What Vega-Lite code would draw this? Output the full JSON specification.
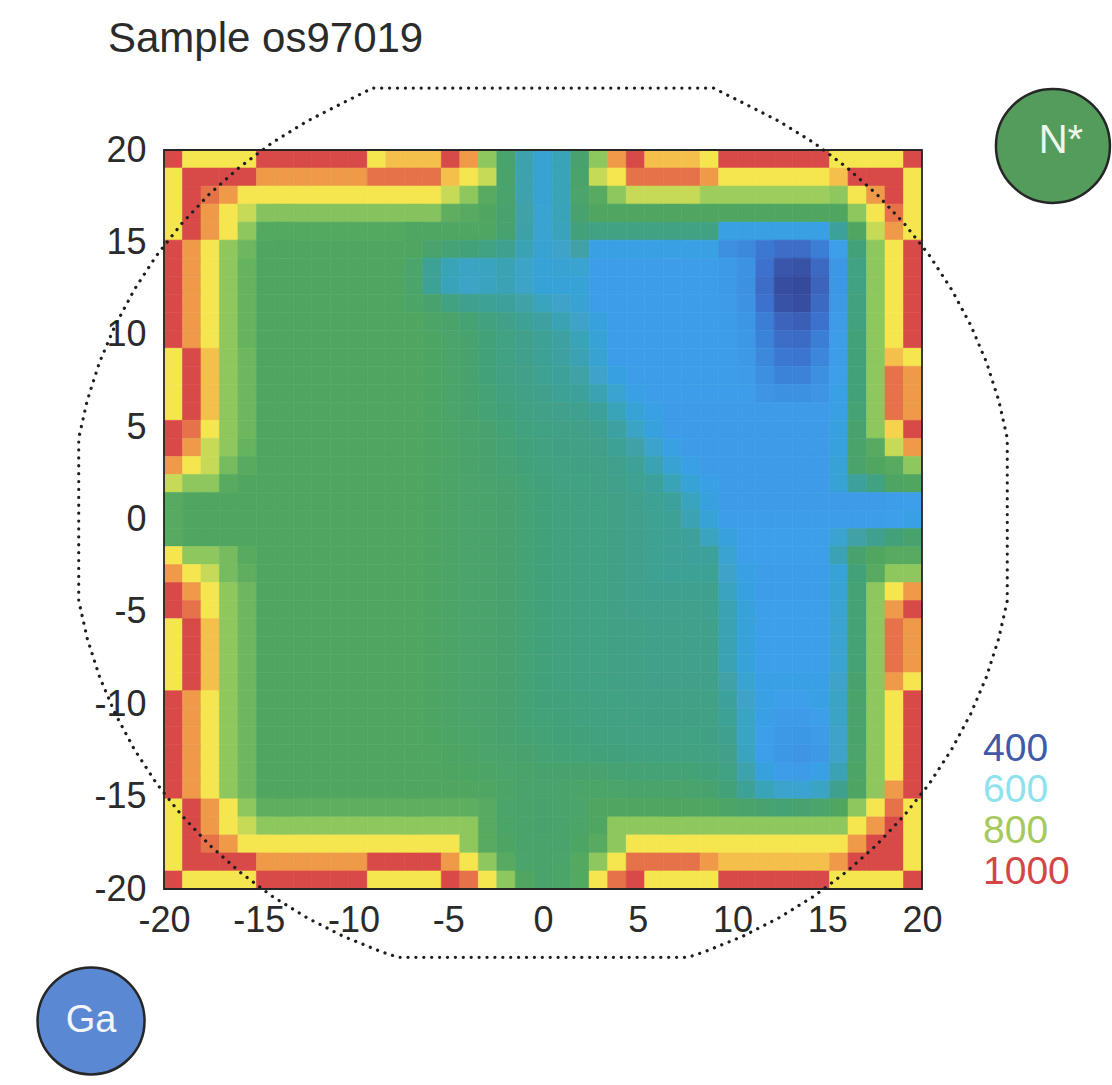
{
  "$schema": "https://vega.github.io/schema/vega-lite/v6.json",
  "autosize": "none",
  "width": 758,
  "height": 739,
  "padding": {"left": 164, "top": 150, "right": 190, "bottom": 196},
  "background": "white",
  "config": {
    "view": {"stroke": null},
    "font": "Liberation Sans",
    "axis": {"ticks": false, "tickSize": 0, "domain": false, "grid": false, "labelFont": "Liberation Sans", "labelFontSize": 36, "labelColor": "#2b2b2b", "labelOverlap": false, "labelFlush": false, "labelExpr": "'' + datum.value"}
  },
  "title": {"text": "Sample os97019", "anchor": "start", "frame": "group", "orient": "top", "font": "Liberation Sans", "fontSize": 42, "fontWeight": "normal", "color": "#2b2b2b", "baseline": "alphabetic", "offset": -12, "dx": -56},
  "resolve": {"scale": {"x": "independent", "y": "independent", "color": "independent"}},
  "layer": [
    {
      "data": {"values": [
{"c":0,"r":0,"v":1000},{"c":1,"r":0,"v":880},{"c":2,"r":0,"v":880},{"c":3,"r":0,"v":880},{"c":4,"r":0,"v":880},{"c":5,"r":0,"v":1000},{"c":6,"r":0,"v":1000},{"c":7,"r":0,"v":1000},{"c":8,"r":0,"v":1000},{"c":9,"r":0,"v":1000},{"c":10,"r":0,"v":1000},{"c":11,"r":0,"v":880},{"c":12,"r":0,"v":920},{"c":13,"r":0,"v":920},{"c":14,"r":0,"v":920},{"c":15,"r":0,"v":1000},{"c":16,"r":0,"v":950},{"c":17,"r":0,"v":805},{"c":18,"r":0,"v":745},{"c":19,"r":0,"v":685},{"c":20,"r":0,"v":645},{"c":21,"r":0,"v":675},{"c":22,"r":0,"v":740},{"c":23,"r":0,"v":805},{"c":24,"r":0,"v":950},{"c":25,"r":0,"v":1000},{"c":26,"r":0,"v":920},{"c":27,"r":0,"v":920},{"c":28,"r":0,"v":920},{"c":29,"r":0,"v":880},{"c":30,"r":0,"v":1000},{"c":31,"r":0,"v":1000},{"c":32,"r":0,"v":1000},{"c":33,"r":0,"v":1000},{"c":34,"r":0,"v":1000},{"c":35,"r":0,"v":1000},{"c":36,"r":0,"v":880},{"c":37,"r":0,"v":880},{"c":38,"r":0,"v":880},{"c":39,"r":0,"v":880},{"c":40,"r":0,"v":1000},
{"c":0,"r":1,"v":880},{"c":1,"r":1,"v":1000},{"c":2,"r":1,"v":1000},{"c":3,"r":1,"v":1000},{"c":4,"r":1,"v":1000},{"c":5,"r":1,"v":950},{"c":6,"r":1,"v":950},{"c":7,"r":1,"v":950},{"c":8,"r":1,"v":950},{"c":9,"r":1,"v":950},{"c":10,"r":1,"v":950},{"c":11,"r":1,"v":975},{"c":12,"r":1,"v":975},{"c":13,"r":1,"v":975},{"c":14,"r":1,"v":975},{"c":15,"r":1,"v":920},{"c":16,"r":1,"v":880},{"c":17,"r":1,"v":840},{"c":18,"r":1,"v":745},{"c":19,"r":1,"v":685},{"c":20,"r":1,"v":645},{"c":21,"r":1,"v":675},{"c":22,"r":1,"v":745},{"c":23,"r":1,"v":840},{"c":24,"r":1,"v":880},{"c":25,"r":1,"v":975},{"c":26,"r":1,"v":975},{"c":27,"r":1,"v":975},{"c":28,"r":1,"v":975},{"c":29,"r":1,"v":950},{"c":30,"r":1,"v":880},{"c":31,"r":1,"v":880},{"c":32,"r":1,"v":880},{"c":33,"r":1,"v":880},{"c":34,"r":1,"v":880},{"c":35,"r":1,"v":880},{"c":36,"r":1,"v":920},{"c":37,"r":1,"v":1000},{"c":38,"r":1,"v":1000},{"c":39,"r":1,"v":1000},{"c":40,"r":1,"v":880},
{"c":0,"r":2,"v":880},{"c":1,"r":2,"v":1000},{"c":2,"r":2,"v":975},{"c":3,"r":2,"v":950},{"c":4,"r":2,"v":880},{"c":5,"r":2,"v":880},{"c":6,"r":2,"v":880},{"c":7,"r":2,"v":880},{"c":8,"r":2,"v":880},{"c":9,"r":2,"v":880},{"c":10,"r":2,"v":880},{"c":11,"r":2,"v":880},{"c":12,"r":2,"v":880},{"c":13,"r":2,"v":880},{"c":14,"r":2,"v":880},{"c":15,"r":2,"v":840},{"c":16,"r":2,"v":805},{"c":17,"r":2,"v":770},{"c":18,"r":2,"v":745},{"c":19,"r":2,"v":685},{"c":20,"r":2,"v":645},{"c":21,"r":2,"v":675},{"c":22,"r":2,"v":750},{"c":23,"r":2,"v":770},{"c":24,"r":2,"v":805},{"c":25,"r":2,"v":840},{"c":26,"r":2,"v":840},{"c":27,"r":2,"v":840},{"c":28,"r":2,"v":840},{"c":29,"r":2,"v":815},{"c":30,"r":2,"v":815},{"c":31,"r":2,"v":815},{"c":32,"r":2,"v":815},{"c":33,"r":2,"v":815},{"c":34,"r":2,"v":815},{"c":35,"r":2,"v":815},{"c":36,"r":2,"v":805},{"c":37,"r":2,"v":880},{"c":38,"r":2,"v":950},{"c":39,"r":2,"v":1000},{"c":40,"r":2,"v":880},
{"c":0,"r":3,"v":880},{"c":1,"r":3,"v":1000},{"c":2,"r":3,"v":950},{"c":3,"r":3,"v":880},{"c":4,"r":3,"v":840},{"c":5,"r":3,"v":800},{"c":6,"r":3,"v":800},{"c":7,"r":3,"v":800},{"c":8,"r":3,"v":800},{"c":9,"r":3,"v":800},{"c":10,"r":3,"v":800},{"c":11,"r":3,"v":800},{"c":12,"r":3,"v":800},{"c":13,"r":3,"v":800},{"c":14,"r":3,"v":800},{"c":15,"r":3,"v":775},{"c":16,"r":3,"v":770},{"c":17,"r":3,"v":765},{"c":18,"r":3,"v":740},{"c":19,"r":3,"v":690},{"c":20,"r":3,"v":648},{"c":21,"r":3,"v":675},{"c":22,"r":3,"v":740},{"c":23,"r":3,"v":765},{"c":24,"r":3,"v":765},{"c":25,"r":3,"v":765},{"c":26,"r":3,"v":765},{"c":27,"r":3,"v":765},{"c":28,"r":3,"v":765},{"c":29,"r":3,"v":765},{"c":30,"r":3,"v":765},{"c":31,"r":3,"v":765},{"c":32,"r":3,"v":765},{"c":33,"r":3,"v":765},{"c":34,"r":3,"v":765},{"c":35,"r":3,"v":765},{"c":36,"r":3,"v":765},{"c":37,"r":3,"v":805},{"c":38,"r":3,"v":880},{"c":39,"r":3,"v":975},{"c":40,"r":3,"v":880},
{"c":0,"r":4,"v":880},{"c":1,"r":4,"v":1000},{"c":2,"r":4,"v":950},{"c":3,"r":4,"v":880},{"c":4,"r":4,"v":805},{"c":5,"r":4,"v":768},{"c":6,"r":4,"v":768},{"c":7,"r":4,"v":768},{"c":8,"r":4,"v":768},{"c":9,"r":4,"v":768},{"c":10,"r":4,"v":768},{"c":11,"r":4,"v":768},{"c":12,"r":4,"v":768},{"c":13,"r":4,"v":762},{"c":14,"r":4,"v":762},{"c":15,"r":4,"v":762},{"c":16,"r":4,"v":762},{"c":17,"r":4,"v":762},{"c":18,"r":4,"v":738},{"c":19,"r":4,"v":688},{"c":20,"r":4,"v":650},{"c":21,"r":4,"v":672},{"c":22,"r":4,"v":728},{"c":23,"r":4,"v":720},{"c":24,"r":4,"v":720},{"c":25,"r":4,"v":720},{"c":26,"r":4,"v":720},{"c":27,"r":4,"v":720},{"c":28,"r":4,"v":720},{"c":29,"r":4,"v":720},{"c":30,"r":4,"v":620},{"c":31,"r":4,"v":620},{"c":32,"r":4,"v":620},{"c":33,"r":4,"v":620},{"c":34,"r":4,"v":620},{"c":35,"r":4,"v":620},{"c":36,"r":4,"v":700},{"c":37,"r":4,"v":765},{"c":38,"r":4,"v":840},{"c":39,"r":4,"v":950},{"c":40,"r":4,"v":880},
{"c":0,"r":5,"v":1000},{"c":1,"r":5,"v":950},{"c":2,"r":5,"v":880},{"c":3,"r":5,"v":805},{"c":4,"r":5,"v":785},{"c":5,"r":5,"v":765},{"c":6,"r":5,"v":765},{"c":7,"r":5,"v":765},{"c":8,"r":5,"v":765},{"c":9,"r":5,"v":765},{"c":10,"r":5,"v":765},{"c":11,"r":5,"v":765},{"c":12,"r":5,"v":765},{"c":13,"r":5,"v":765},{"c":14,"r":5,"v":745},{"c":15,"r":5,"v":735},{"c":16,"r":5,"v":730},{"c":17,"r":5,"v":720},{"c":18,"r":5,"v":710},{"c":19,"r":5,"v":680},{"c":20,"r":5,"v":645},{"c":21,"r":5,"v":660},{"c":22,"r":5,"v":690},{"c":23,"r":5,"v":620},{"c":24,"r":5,"v":620},{"c":25,"r":5,"v":620},{"c":26,"r":5,"v":620},{"c":27,"r":5,"v":620},{"c":28,"r":5,"v":620},{"c":29,"r":5,"v":620},{"c":30,"r":5,"v":570},{"c":31,"r":5,"v":560},{"c":32,"r":5,"v":530},{"c":33,"r":5,"v":510},{"c":34,"r":5,"v":510},{"c":35,"r":5,"v":540},{"c":36,"r":5,"v":610},{"c":37,"r":5,"v":730},{"c":38,"r":5,"v":805},{"c":39,"r":5,"v":880},{"c":40,"r":5,"v":1000},
{"c":0,"r":6,"v":1000},{"c":1,"r":6,"v":950},{"c":2,"r":6,"v":880},{"c":3,"r":6,"v":805},{"c":4,"r":6,"v":780},{"c":5,"r":6,"v":765},{"c":6,"r":6,"v":765},{"c":7,"r":6,"v":765},{"c":8,"r":6,"v":765},{"c":9,"r":6,"v":765},{"c":10,"r":6,"v":765},{"c":11,"r":6,"v":765},{"c":12,"r":6,"v":765},{"c":13,"r":6,"v":750},{"c":14,"r":6,"v":705},{"c":15,"r":6,"v":675},{"c":16,"r":6,"v":665},{"c":17,"r":6,"v":670},{"c":18,"r":6,"v":680},{"c":19,"r":6,"v":662},{"c":20,"r":6,"v":640},{"c":21,"r":6,"v":645},{"c":22,"r":6,"v":650},{"c":23,"r":6,"v":605},{"c":24,"r":6,"v":605},{"c":25,"r":6,"v":605},{"c":26,"r":6,"v":605},{"c":27,"r":6,"v":605},{"c":28,"r":6,"v":605},{"c":29,"r":6,"v":605},{"c":30,"r":6,"v":598},{"c":31,"r":6,"v":580},{"c":32,"r":6,"v":520},{"c":33,"r":6,"v":460},{"c":34,"r":6,"v":450},{"c":35,"r":6,"v":500},{"c":36,"r":6,"v":590},{"c":37,"r":6,"v":720},{"c":38,"r":6,"v":805},{"c":39,"r":6,"v":880},{"c":40,"r":6,"v":1000},
{"c":0,"r":7,"v":1000},{"c":1,"r":7,"v":950},{"c":2,"r":7,"v":880},{"c":3,"r":7,"v":805},{"c":4,"r":7,"v":780},{"c":5,"r":7,"v":765},{"c":6,"r":7,"v":765},{"c":7,"r":7,"v":765},{"c":8,"r":7,"v":765},{"c":9,"r":7,"v":765},{"c":10,"r":7,"v":765},{"c":11,"r":7,"v":765},{"c":12,"r":7,"v":765},{"c":13,"r":7,"v":750},{"c":14,"r":7,"v":705},{"c":15,"r":7,"v":672},{"c":16,"r":7,"v":662},{"c":17,"r":7,"v":668},{"c":18,"r":7,"v":678},{"c":19,"r":7,"v":662},{"c":20,"r":7,"v":638},{"c":21,"r":7,"v":638},{"c":22,"r":7,"v":640},{"c":23,"r":7,"v":605},{"c":24,"r":7,"v":605},{"c":25,"r":7,"v":605},{"c":26,"r":7,"v":605},{"c":27,"r":7,"v":605},{"c":28,"r":7,"v":605},{"c":29,"r":7,"v":605},{"c":30,"r":7,"v":598},{"c":31,"r":7,"v":575},{"c":32,"r":7,"v":510},{"c":33,"r":7,"v":440},{"c":34,"r":7,"v":430},{"c":35,"r":7,"v":490},{"c":36,"r":7,"v":590},{"c":37,"r":7,"v":720},{"c":38,"r":7,"v":805},{"c":39,"r":7,"v":880},{"c":40,"r":7,"v":1000},
{"c":0,"r":8,"v":1000},{"c":1,"r":8,"v":950},{"c":2,"r":8,"v":880},{"c":3,"r":8,"v":805},{"c":4,"r":8,"v":780},{"c":5,"r":8,"v":765},{"c":6,"r":8,"v":765},{"c":7,"r":8,"v":765},{"c":8,"r":8,"v":765},{"c":9,"r":8,"v":765},{"c":10,"r":8,"v":765},{"c":11,"r":8,"v":765},{"c":12,"r":8,"v":765},{"c":13,"r":8,"v":755},{"c":14,"r":8,"v":740},{"c":15,"r":8,"v":720},{"c":16,"r":8,"v":710},{"c":17,"r":8,"v":705},{"c":18,"r":8,"v":700},{"c":19,"r":8,"v":690},{"c":20,"r":8,"v":670},{"c":21,"r":8,"v":660},{"c":22,"r":8,"v":645},{"c":23,"r":8,"v":605},{"c":24,"r":8,"v":605},{"c":25,"r":8,"v":605},{"c":26,"r":8,"v":605},{"c":27,"r":8,"v":605},{"c":28,"r":8,"v":605},{"c":29,"r":8,"v":605},{"c":30,"r":8,"v":600},{"c":31,"r":8,"v":580},{"c":32,"r":8,"v":520},{"c":33,"r":8,"v":450},{"c":34,"r":8,"v":440},{"c":35,"r":8,"v":500},{"c":36,"r":8,"v":595},{"c":37,"r":8,"v":725},{"c":38,"r":8,"v":805},{"c":39,"r":8,"v":880},{"c":40,"r":8,"v":1000},
{"c":0,"r":9,"v":1000},{"c":1,"r":9,"v":950},{"c":2,"r":9,"v":880},{"c":3,"r":9,"v":805},{"c":4,"r":9,"v":780},{"c":5,"r":9,"v":765},{"c":6,"r":9,"v":765},{"c":7,"r":9,"v":765},{"c":8,"r":9,"v":765},{"c":9,"r":9,"v":765},{"c":10,"r":9,"v":765},{"c":11,"r":9,"v":765},{"c":12,"r":9,"v":765},{"c":13,"r":9,"v":765},{"c":14,"r":9,"v":755},{"c":15,"r":9,"v":745},{"c":16,"r":9,"v":735},{"c":17,"r":9,"v":725},{"c":18,"r":9,"v":715},{"c":19,"r":9,"v":705},{"c":20,"r":9,"v":695},{"c":21,"r":9,"v":680},{"c":22,"r":9,"v":660},{"c":23,"r":9,"v":630},{"c":24,"r":9,"v":605},{"c":25,"r":9,"v":605},{"c":26,"r":9,"v":605},{"c":27,"r":9,"v":605},{"c":28,"r":9,"v":605},{"c":29,"r":9,"v":605},{"c":30,"r":9,"v":602},{"c":31,"r":9,"v":588},{"c":32,"r":9,"v":540},{"c":33,"r":9,"v":490},{"c":34,"r":9,"v":480},{"c":35,"r":9,"v":520},{"c":36,"r":9,"v":600},{"c":37,"r":9,"v":725},{"c":38,"r":9,"v":805},{"c":39,"r":9,"v":880},{"c":40,"r":9,"v":1000},
{"c":0,"r":10,"v":1000},{"c":1,"r":10,"v":950},{"c":2,"r":10,"v":880},{"c":3,"r":10,"v":805},{"c":4,"r":10,"v":780},{"c":5,"r":10,"v":765},{"c":6,"r":10,"v":765},{"c":7,"r":10,"v":765},{"c":8,"r":10,"v":765},{"c":9,"r":10,"v":765},{"c":10,"r":10,"v":765},{"c":11,"r":10,"v":765},{"c":12,"r":10,"v":765},{"c":13,"r":10,"v":765},{"c":14,"r":10,"v":758},{"c":15,"r":10,"v":750},{"c":16,"r":10,"v":740},{"c":17,"r":10,"v":730},{"c":18,"r":10,"v":720},{"c":19,"r":10,"v":712},{"c":20,"r":10,"v":705},{"c":21,"r":10,"v":695},{"c":22,"r":10,"v":675},{"c":23,"r":10,"v":640},{"c":24,"r":10,"v":605},{"c":25,"r":10,"v":605},{"c":26,"r":10,"v":605},{"c":27,"r":10,"v":605},{"c":28,"r":10,"v":605},{"c":29,"r":10,"v":605},{"c":30,"r":10,"v":605},{"c":31,"r":10,"v":592},{"c":32,"r":10,"v":550},{"c":33,"r":10,"v":510},{"c":34,"r":10,"v":505},{"c":35,"r":10,"v":540},{"c":36,"r":10,"v":605},{"c":37,"r":10,"v":730},{"c":38,"r":10,"v":805},{"c":39,"r":10,"v":880},{"c":40,"r":10,"v":1000},
{"c":0,"r":11,"v":880},{"c":1,"r":11,"v":1000},{"c":2,"r":11,"v":920},{"c":3,"r":11,"v":805},{"c":4,"r":11,"v":785},{"c":5,"r":11,"v":765},{"c":6,"r":11,"v":765},{"c":7,"r":11,"v":765},{"c":8,"r":11,"v":765},{"c":9,"r":11,"v":765},{"c":10,"r":11,"v":765},{"c":11,"r":11,"v":765},{"c":12,"r":11,"v":765},{"c":13,"r":11,"v":765},{"c":14,"r":11,"v":758},{"c":15,"r":11,"v":750},{"c":16,"r":11,"v":740},{"c":17,"r":11,"v":730},{"c":18,"r":11,"v":720},{"c":19,"r":11,"v":712},{"c":20,"r":11,"v":705},{"c":21,"r":11,"v":695},{"c":22,"r":11,"v":678},{"c":23,"r":11,"v":645},{"c":24,"r":11,"v":605},{"c":25,"r":11,"v":605},{"c":26,"r":11,"v":605},{"c":27,"r":11,"v":605},{"c":28,"r":11,"v":605},{"c":29,"r":11,"v":605},{"c":30,"r":11,"v":605},{"c":31,"r":11,"v":595},{"c":32,"r":11,"v":560},{"c":33,"r":11,"v":530},{"c":34,"r":11,"v":525},{"c":35,"r":11,"v":555},{"c":36,"r":11,"v":605},{"c":37,"r":11,"v":730},{"c":38,"r":11,"v":805},{"c":39,"r":11,"v":920},{"c":40,"r":11,"v":880},
{"c":0,"r":12,"v":880},{"c":1,"r":12,"v":1000},{"c":2,"r":12,"v":920},{"c":3,"r":12,"v":805},{"c":4,"r":12,"v":785},{"c":5,"r":12,"v":765},{"c":6,"r":12,"v":765},{"c":7,"r":12,"v":765},{"c":8,"r":12,"v":765},{"c":9,"r":12,"v":765},{"c":10,"r":12,"v":765},{"c":11,"r":12,"v":765},{"c":12,"r":12,"v":765},{"c":13,"r":12,"v":765},{"c":14,"r":12,"v":758},{"c":15,"r":12,"v":750},{"c":16,"r":12,"v":740},{"c":17,"r":12,"v":730},{"c":18,"r":12,"v":722},{"c":19,"r":12,"v":715},{"c":20,"r":12,"v":708},{"c":21,"r":12,"v":700},{"c":22,"r":12,"v":690},{"c":23,"r":12,"v":660},{"c":24,"r":12,"v":625},{"c":25,"r":12,"v":605},{"c":26,"r":12,"v":605},{"c":27,"r":12,"v":605},{"c":28,"r":12,"v":605},{"c":29,"r":12,"v":605},{"c":30,"r":12,"v":605},{"c":31,"r":12,"v":600},{"c":32,"r":12,"v":570},{"c":33,"r":12,"v":550},{"c":34,"r":12,"v":550},{"c":35,"r":12,"v":570},{"c":36,"r":12,"v":610},{"c":37,"r":12,"v":730},{"c":38,"r":12,"v":805},{"c":39,"r":12,"v":975},{"c":40,"r":12,"v":950},
{"c":0,"r":13,"v":880},{"c":1,"r":13,"v":1000},{"c":2,"r":13,"v":920},{"c":3,"r":13,"v":805},{"c":4,"r":13,"v":785},{"c":5,"r":13,"v":765},{"c":6,"r":13,"v":765},{"c":7,"r":13,"v":765},{"c":8,"r":13,"v":765},{"c":9,"r":13,"v":765},{"c":10,"r":13,"v":765},{"c":11,"r":13,"v":765},{"c":12,"r":13,"v":765},{"c":13,"r":13,"v":765},{"c":14,"r":13,"v":758},{"c":15,"r":13,"v":750},{"c":16,"r":13,"v":742},{"c":17,"r":13,"v":733},{"c":18,"r":13,"v":725},{"c":19,"r":13,"v":718},{"c":20,"r":13,"v":712},{"c":21,"r":13,"v":705},{"c":22,"r":13,"v":700},{"c":23,"r":13,"v":680},{"c":24,"r":13,"v":650},{"c":25,"r":13,"v":620},{"c":26,"r":13,"v":605},{"c":27,"r":13,"v":605},{"c":28,"r":13,"v":605},{"c":29,"r":13,"v":605},{"c":30,"r":13,"v":605},{"c":31,"r":13,"v":605},{"c":32,"r":13,"v":585},{"c":33,"r":13,"v":575},{"c":34,"r":13,"v":575},{"c":35,"r":13,"v":585},{"c":36,"r":13,"v":615},{"c":37,"r":13,"v":730},{"c":38,"r":13,"v":805},{"c":39,"r":13,"v":975},{"c":40,"r":13,"v":950},
{"c":0,"r":14,"v":880},{"c":1,"r":14,"v":1000},{"c":2,"r":14,"v":920},{"c":3,"r":14,"v":805},{"c":4,"r":14,"v":785},{"c":5,"r":14,"v":765},{"c":6,"r":14,"v":765},{"c":7,"r":14,"v":765},{"c":8,"r":14,"v":765},{"c":9,"r":14,"v":765},{"c":10,"r":14,"v":765},{"c":11,"r":14,"v":765},{"c":12,"r":14,"v":765},{"c":13,"r":14,"v":765},{"c":14,"r":14,"v":758},{"c":15,"r":14,"v":750},{"c":16,"r":14,"v":742},{"c":17,"r":14,"v":735},{"c":18,"r":14,"v":728},{"c":19,"r":14,"v":722},{"c":20,"r":14,"v":716},{"c":21,"r":14,"v":712},{"c":22,"r":14,"v":710},{"c":23,"r":14,"v":700},{"c":24,"r":14,"v":675},{"c":25,"r":14,"v":640},{"c":26,"r":14,"v":615},{"c":27,"r":14,"v":600},{"c":28,"r":14,"v":600},{"c":29,"r":14,"v":600},{"c":30,"r":14,"v":600},{"c":31,"r":14,"v":600},{"c":32,"r":14,"v":600},{"c":33,"r":14,"v":600},{"c":34,"r":14,"v":600},{"c":35,"r":14,"v":600},{"c":36,"r":14,"v":620},{"c":37,"r":14,"v":735},{"c":38,"r":14,"v":805},{"c":39,"r":14,"v":975},{"c":40,"r":14,"v":950},
{"c":0,"r":15,"v":1000},{"c":1,"r":15,"v":975},{"c":2,"r":15,"v":880},{"c":3,"r":15,"v":805},{"c":4,"r":15,"v":785},{"c":5,"r":15,"v":765},{"c":6,"r":15,"v":765},{"c":7,"r":15,"v":765},{"c":8,"r":15,"v":765},{"c":9,"r":15,"v":765},{"c":10,"r":15,"v":765},{"c":11,"r":15,"v":765},{"c":12,"r":15,"v":765},{"c":13,"r":15,"v":765},{"c":14,"r":15,"v":758},{"c":15,"r":15,"v":752},{"c":16,"r":15,"v":745},{"c":17,"r":15,"v":738},{"c":18,"r":15,"v":732},{"c":19,"r":15,"v":726},{"c":20,"r":15,"v":720},{"c":21,"r":15,"v":716},{"c":22,"r":15,"v":715},{"c":23,"r":15,"v":710},{"c":24,"r":15,"v":695},{"c":25,"r":15,"v":665},{"c":26,"r":15,"v":630},{"c":27,"r":15,"v":600},{"c":28,"r":15,"v":600},{"c":29,"r":15,"v":600},{"c":30,"r":15,"v":600},{"c":31,"r":15,"v":600},{"c":32,"r":15,"v":600},{"c":33,"r":15,"v":600},{"c":34,"r":15,"v":600},{"c":35,"r":15,"v":600},{"c":36,"r":15,"v":625},{"c":37,"r":15,"v":740},{"c":38,"r":15,"v":805},{"c":39,"r":15,"v":900},{"c":40,"r":15,"v":1000},
{"c":0,"r":16,"v":1000},{"c":1,"r":16,"v":950},{"c":2,"r":16,"v":840},{"c":3,"r":16,"v":805},{"c":4,"r":16,"v":780},{"c":5,"r":16,"v":765},{"c":6,"r":16,"v":765},{"c":7,"r":16,"v":765},{"c":8,"r":16,"v":765},{"c":9,"r":16,"v":765},{"c":10,"r":16,"v":765},{"c":11,"r":16,"v":765},{"c":12,"r":16,"v":765},{"c":13,"r":16,"v":765},{"c":14,"r":16,"v":760},{"c":15,"r":16,"v":754},{"c":16,"r":16,"v":747},{"c":17,"r":16,"v":740},{"c":18,"r":16,"v":734},{"c":19,"r":16,"v":728},{"c":20,"r":16,"v":723},{"c":21,"r":16,"v":719},{"c":22,"r":16,"v":717},{"c":23,"r":16,"v":715},{"c":24,"r":16,"v":705},{"c":25,"r":16,"v":690},{"c":26,"r":16,"v":655},{"c":27,"r":16,"v":620},{"c":28,"r":16,"v":600},{"c":29,"r":16,"v":600},{"c":30,"r":16,"v":600},{"c":31,"r":16,"v":600},{"c":32,"r":16,"v":600},{"c":33,"r":16,"v":600},{"c":34,"r":16,"v":600},{"c":35,"r":16,"v":600},{"c":36,"r":16,"v":630},{"c":37,"r":16,"v":745},{"c":38,"r":16,"v":770},{"c":39,"r":16,"v":840},{"c":40,"r":16,"v":950},
{"c":0,"r":17,"v":950},{"c":1,"r":17,"v":880},{"c":2,"r":17,"v":840},{"c":3,"r":17,"v":790},{"c":4,"r":17,"v":770},{"c":5,"r":17,"v":765},{"c":6,"r":17,"v":765},{"c":7,"r":17,"v":765},{"c":8,"r":17,"v":765},{"c":9,"r":17,"v":765},{"c":10,"r":17,"v":765},{"c":11,"r":17,"v":765},{"c":12,"r":17,"v":765},{"c":13,"r":17,"v":765},{"c":14,"r":17,"v":760},{"c":15,"r":17,"v":755},{"c":16,"r":17,"v":748},{"c":17,"r":17,"v":742},{"c":18,"r":17,"v":736},{"c":19,"r":17,"v":730},{"c":20,"r":17,"v":725},{"c":21,"r":17,"v":721},{"c":22,"r":17,"v":719},{"c":23,"r":17,"v":717},{"c":24,"r":17,"v":712},{"c":25,"r":17,"v":705},{"c":26,"r":17,"v":680},{"c":27,"r":17,"v":645},{"c":28,"r":17,"v":615},{"c":29,"r":17,"v":600},{"c":30,"r":17,"v":600},{"c":31,"r":17,"v":600},{"c":32,"r":17,"v":600},{"c":33,"r":17,"v":600},{"c":34,"r":17,"v":600},{"c":35,"r":17,"v":600},{"c":36,"r":17,"v":640},{"c":37,"r":17,"v":745},{"c":38,"r":17,"v":765},{"c":39,"r":17,"v":770},{"c":40,"r":17,"v":805},
{"c":0,"r":18,"v":840},{"c":1,"r":18,"v":805},{"c":2,"r":18,"v":805},{"c":3,"r":18,"v":770},{"c":4,"r":18,"v":765},{"c":5,"r":18,"v":765},{"c":6,"r":18,"v":765},{"c":7,"r":18,"v":765},{"c":8,"r":18,"v":765},{"c":9,"r":18,"v":765},{"c":10,"r":18,"v":765},{"c":11,"r":18,"v":765},{"c":12,"r":18,"v":765},{"c":13,"r":18,"v":765},{"c":14,"r":18,"v":760},{"c":15,"r":18,"v":755},{"c":16,"r":18,"v":750},{"c":17,"r":18,"v":744},{"c":18,"r":18,"v":738},{"c":19,"r":18,"v":732},{"c":20,"r":18,"v":727},{"c":21,"r":18,"v":723},{"c":22,"r":18,"v":720},{"c":23,"r":18,"v":718},{"c":24,"r":18,"v":714},{"c":25,"r":18,"v":708},{"c":26,"r":18,"v":700},{"c":27,"r":18,"v":675},{"c":28,"r":18,"v":640},{"c":29,"r":18,"v":615},{"c":30,"r":18,"v":600},{"c":31,"r":18,"v":600},{"c":32,"r":18,"v":600},{"c":33,"r":18,"v":600},{"c":34,"r":18,"v":600},{"c":35,"r":18,"v":600},{"c":36,"r":18,"v":640},{"c":37,"r":18,"v":700},{"c":38,"r":18,"v":720},{"c":39,"r":18,"v":760},{"c":40,"r":18,"v":765},
{"c":0,"r":19,"v":770},{"c":1,"r":19,"v":765},{"c":2,"r":19,"v":765},{"c":3,"r":19,"v":765},{"c":4,"r":19,"v":765},{"c":5,"r":19,"v":765},{"c":6,"r":19,"v":765},{"c":7,"r":19,"v":765},{"c":8,"r":19,"v":765},{"c":9,"r":19,"v":765},{"c":10,"r":19,"v":765},{"c":11,"r":19,"v":765},{"c":12,"r":19,"v":765},{"c":13,"r":19,"v":765},{"c":14,"r":19,"v":760},{"c":15,"r":19,"v":755},{"c":16,"r":19,"v":750},{"c":17,"r":19,"v":745},{"c":18,"r":19,"v":740},{"c":19,"r":19,"v":734},{"c":20,"r":19,"v":729},{"c":21,"r":19,"v":725},{"c":22,"r":19,"v":722},{"c":23,"r":19,"v":720},{"c":24,"r":19,"v":716},{"c":25,"r":19,"v":712},{"c":26,"r":19,"v":706},{"c":27,"r":19,"v":700},{"c":28,"r":19,"v":670},{"c":29,"r":19,"v":630},{"c":30,"r":19,"v":600},{"c":31,"r":19,"v":600},{"c":32,"r":19,"v":600},{"c":33,"r":19,"v":600},{"c":34,"r":19,"v":600},{"c":35,"r":19,"v":600},{"c":36,"r":19,"v":600},{"c":37,"r":19,"v":600},{"c":38,"r":19,"v":600},{"c":39,"r":19,"v":605},{"c":40,"r":19,"v":610},
{"c":0,"r":20,"v":770},{"c":1,"r":20,"v":765},{"c":2,"r":20,"v":765},{"c":3,"r":20,"v":765},{"c":4,"r":20,"v":765},{"c":5,"r":20,"v":765},{"c":6,"r":20,"v":765},{"c":7,"r":20,"v":765},{"c":8,"r":20,"v":765},{"c":9,"r":20,"v":765},{"c":10,"r":20,"v":765},{"c":11,"r":20,"v":765},{"c":12,"r":20,"v":765},{"c":13,"r":20,"v":765},{"c":14,"r":20,"v":760},{"c":15,"r":20,"v":755},{"c":16,"r":20,"v":750},{"c":17,"r":20,"v":745},{"c":18,"r":20,"v":740},{"c":19,"r":20,"v":734},{"c":20,"r":20,"v":729},{"c":21,"r":20,"v":725},{"c":22,"r":20,"v":722},{"c":23,"r":20,"v":720},{"c":24,"r":20,"v":716},{"c":25,"r":20,"v":712},{"c":26,"r":20,"v":708},{"c":27,"r":20,"v":705},{"c":28,"r":20,"v":680},{"c":29,"r":20,"v":640},{"c":30,"r":20,"v":605},{"c":31,"r":20,"v":605},{"c":32,"r":20,"v":605},{"c":33,"r":20,"v":605},{"c":34,"r":20,"v":605},{"c":35,"r":20,"v":605},{"c":36,"r":20,"v":605},{"c":37,"r":20,"v":605},{"c":38,"r":20,"v":605},{"c":39,"r":20,"v":610},{"c":40,"r":20,"v":615},
{"c":0,"r":21,"v":770},{"c":1,"r":21,"v":765},{"c":2,"r":21,"v":765},{"c":3,"r":21,"v":765},{"c":4,"r":21,"v":765},{"c":5,"r":21,"v":765},{"c":6,"r":21,"v":765},{"c":7,"r":21,"v":765},{"c":8,"r":21,"v":765},{"c":9,"r":21,"v":765},{"c":10,"r":21,"v":765},{"c":11,"r":21,"v":765},{"c":12,"r":21,"v":765},{"c":13,"r":21,"v":765},{"c":14,"r":21,"v":760},{"c":15,"r":21,"v":755},{"c":16,"r":21,"v":750},{"c":17,"r":21,"v":745},{"c":18,"r":21,"v":740},{"c":19,"r":21,"v":734},{"c":20,"r":21,"v":729},{"c":21,"r":21,"v":725},{"c":22,"r":21,"v":722},{"c":23,"r":21,"v":720},{"c":24,"r":21,"v":716},{"c":25,"r":21,"v":712},{"c":26,"r":21,"v":708},{"c":27,"r":21,"v":705},{"c":28,"r":21,"v":700},{"c":29,"r":21,"v":670},{"c":30,"r":21,"v":630},{"c":31,"r":21,"v":610},{"c":32,"r":21,"v":610},{"c":33,"r":21,"v":610},{"c":34,"r":21,"v":610},{"c":35,"r":21,"v":610},{"c":36,"r":21,"v":650},{"c":37,"r":21,"v":690},{"c":38,"r":21,"v":710},{"c":39,"r":21,"v":730},{"c":40,"r":21,"v":740},
{"c":0,"r":22,"v":880},{"c":1,"r":22,"v":805},{"c":2,"r":22,"v":805},{"c":3,"r":22,"v":790},{"c":4,"r":22,"v":770},{"c":5,"r":22,"v":765},{"c":6,"r":22,"v":765},{"c":7,"r":22,"v":765},{"c":8,"r":22,"v":765},{"c":9,"r":22,"v":765},{"c":10,"r":22,"v":765},{"c":11,"r":22,"v":765},{"c":12,"r":22,"v":765},{"c":13,"r":22,"v":765},{"c":14,"r":22,"v":760},{"c":15,"r":22,"v":755},{"c":16,"r":22,"v":750},{"c":17,"r":22,"v":745},{"c":18,"r":22,"v":740},{"c":19,"r":22,"v":734},{"c":20,"r":22,"v":729},{"c":21,"r":22,"v":725},{"c":22,"r":22,"v":722},{"c":23,"r":22,"v":720},{"c":24,"r":22,"v":716},{"c":25,"r":22,"v":712},{"c":26,"r":22,"v":708},{"c":27,"r":22,"v":705},{"c":28,"r":22,"v":702},{"c":29,"r":22,"v":700},{"c":30,"r":22,"v":650},{"c":31,"r":22,"v":610},{"c":32,"r":22,"v":610},{"c":33,"r":22,"v":610},{"c":34,"r":22,"v":610},{"c":35,"r":22,"v":610},{"c":36,"r":22,"v":680},{"c":37,"r":22,"v":740},{"c":38,"r":22,"v":765},{"c":39,"r":22,"v":770},{"c":40,"r":22,"v":770},
{"c":0,"r":23,"v":950},{"c":1,"r":23,"v":880},{"c":2,"r":23,"v":840},{"c":3,"r":23,"v":790},{"c":4,"r":23,"v":775},{"c":5,"r":23,"v":765},{"c":6,"r":23,"v":765},{"c":7,"r":23,"v":765},{"c":8,"r":23,"v":765},{"c":9,"r":23,"v":765},{"c":10,"r":23,"v":765},{"c":11,"r":23,"v":765},{"c":12,"r":23,"v":765},{"c":13,"r":23,"v":765},{"c":14,"r":23,"v":760},{"c":15,"r":23,"v":755},{"c":16,"r":23,"v":750},{"c":17,"r":23,"v":745},{"c":18,"r":23,"v":740},{"c":19,"r":23,"v":734},{"c":20,"r":23,"v":729},{"c":21,"r":23,"v":725},{"c":22,"r":23,"v":722},{"c":23,"r":23,"v":720},{"c":24,"r":23,"v":716},{"c":25,"r":23,"v":712},{"c":26,"r":23,"v":708},{"c":27,"r":23,"v":705},{"c":28,"r":23,"v":705},{"c":29,"r":23,"v":705},{"c":30,"r":23,"v":660},{"c":31,"r":23,"v":620},{"c":32,"r":23,"v":605},{"c":33,"r":23,"v":605},{"c":34,"r":23,"v":605},{"c":35,"r":23,"v":605},{"c":36,"r":23,"v":640},{"c":37,"r":23,"v":730},{"c":38,"r":23,"v":770},{"c":39,"r":23,"v":805},{"c":40,"r":23,"v":805},
{"c":0,"r":24,"v":1000},{"c":1,"r":24,"v":950},{"c":2,"r":24,"v":880},{"c":3,"r":24,"v":805},{"c":4,"r":24,"v":785},{"c":5,"r":24,"v":765},{"c":6,"r":24,"v":765},{"c":7,"r":24,"v":765},{"c":8,"r":24,"v":765},{"c":9,"r":24,"v":765},{"c":10,"r":24,"v":765},{"c":11,"r":24,"v":765},{"c":12,"r":24,"v":765},{"c":13,"r":24,"v":765},{"c":14,"r":24,"v":760},{"c":15,"r":24,"v":755},{"c":16,"r":24,"v":750},{"c":17,"r":24,"v":745},{"c":18,"r":24,"v":740},{"c":19,"r":24,"v":734},{"c":20,"r":24,"v":729},{"c":21,"r":24,"v":725},{"c":22,"r":24,"v":722},{"c":23,"r":24,"v":720},{"c":24,"r":24,"v":716},{"c":25,"r":24,"v":712},{"c":26,"r":24,"v":710},{"c":27,"r":24,"v":710},{"c":28,"r":24,"v":710},{"c":29,"r":24,"v":710},{"c":30,"r":24,"v":670},{"c":31,"r":24,"v":625},{"c":32,"r":24,"v":605},{"c":33,"r":24,"v":605},{"c":34,"r":24,"v":605},{"c":35,"r":24,"v":605},{"c":36,"r":24,"v":645},{"c":37,"r":24,"v":735},{"c":38,"r":24,"v":805},{"c":39,"r":24,"v":880},{"c":40,"r":24,"v":950},
{"c":0,"r":25,"v":1000},{"c":1,"r":25,"v":975},{"c":2,"r":25,"v":880},{"c":3,"r":25,"v":805},{"c":4,"r":25,"v":785},{"c":5,"r":25,"v":765},{"c":6,"r":25,"v":765},{"c":7,"r":25,"v":765},{"c":8,"r":25,"v":765},{"c":9,"r":25,"v":765},{"c":10,"r":25,"v":765},{"c":11,"r":25,"v":765},{"c":12,"r":25,"v":765},{"c":13,"r":25,"v":765},{"c":14,"r":25,"v":760},{"c":15,"r":25,"v":755},{"c":16,"r":25,"v":750},{"c":17,"r":25,"v":745},{"c":18,"r":25,"v":740},{"c":19,"r":25,"v":734},{"c":20,"r":25,"v":729},{"c":21,"r":25,"v":725},{"c":22,"r":25,"v":722},{"c":23,"r":25,"v":720},{"c":24,"r":25,"v":716},{"c":25,"r":25,"v":714},{"c":26,"r":25,"v":712},{"c":27,"r":25,"v":712},{"c":28,"r":25,"v":712},{"c":29,"r":25,"v":710},{"c":30,"r":25,"v":680},{"c":31,"r":25,"v":635},{"c":32,"r":25,"v":610},{"c":33,"r":25,"v":610},{"c":34,"r":25,"v":610},{"c":35,"r":25,"v":610},{"c":36,"r":25,"v":650},{"c":37,"r":25,"v":735},{"c":38,"r":25,"v":805},{"c":39,"r":25,"v":950},{"c":40,"r":25,"v":1000},
{"c":0,"r":26,"v":880},{"c":1,"r":26,"v":1000},{"c":2,"r":26,"v":920},{"c":3,"r":26,"v":805},{"c":4,"r":26,"v":785},{"c":5,"r":26,"v":765},{"c":6,"r":26,"v":765},{"c":7,"r":26,"v":765},{"c":8,"r":26,"v":765},{"c":9,"r":26,"v":765},{"c":10,"r":26,"v":765},{"c":11,"r":26,"v":765},{"c":12,"r":26,"v":765},{"c":13,"r":26,"v":765},{"c":14,"r":26,"v":760},{"c":15,"r":26,"v":755},{"c":16,"r":26,"v":750},{"c":17,"r":26,"v":745},{"c":18,"r":26,"v":740},{"c":19,"r":26,"v":734},{"c":20,"r":26,"v":729},{"c":21,"r":26,"v":725},{"c":22,"r":26,"v":722},{"c":23,"r":26,"v":720},{"c":24,"r":26,"v":718},{"c":25,"r":26,"v":716},{"c":26,"r":26,"v":714},{"c":27,"r":26,"v":714},{"c":28,"r":26,"v":714},{"c":29,"r":26,"v":712},{"c":30,"r":26,"v":680},{"c":31,"r":26,"v":635},{"c":32,"r":26,"v":610},{"c":33,"r":26,"v":610},{"c":34,"r":26,"v":610},{"c":35,"r":26,"v":610},{"c":36,"r":26,"v":650},{"c":37,"r":26,"v":735},{"c":38,"r":26,"v":805},{"c":39,"r":26,"v":975},{"c":40,"r":26,"v":950},
{"c":0,"r":27,"v":880},{"c":1,"r":27,"v":1000},{"c":2,"r":27,"v":920},{"c":3,"r":27,"v":805},{"c":4,"r":27,"v":785},{"c":5,"r":27,"v":765},{"c":6,"r":27,"v":765},{"c":7,"r":27,"v":765},{"c":8,"r":27,"v":765},{"c":9,"r":27,"v":765},{"c":10,"r":27,"v":765},{"c":11,"r":27,"v":765},{"c":12,"r":27,"v":765},{"c":13,"r":27,"v":765},{"c":14,"r":27,"v":760},{"c":15,"r":27,"v":755},{"c":16,"r":27,"v":750},{"c":17,"r":27,"v":745},{"c":18,"r":27,"v":740},{"c":19,"r":27,"v":734},{"c":20,"r":27,"v":729},{"c":21,"r":27,"v":725},{"c":22,"r":27,"v":722},{"c":23,"r":27,"v":720},{"c":24,"r":27,"v":718},{"c":25,"r":27,"v":716},{"c":26,"r":27,"v":714},{"c":27,"r":27,"v":714},{"c":28,"r":27,"v":714},{"c":29,"r":27,"v":712},{"c":30,"r":27,"v":680},{"c":31,"r":27,"v":635},{"c":32,"r":27,"v":610},{"c":33,"r":27,"v":610},{"c":34,"r":27,"v":610},{"c":35,"r":27,"v":610},{"c":36,"r":27,"v":650},{"c":37,"r":27,"v":735},{"c":38,"r":27,"v":805},{"c":39,"r":27,"v":975},{"c":40,"r":27,"v":950},
{"c":0,"r":28,"v":880},{"c":1,"r":28,"v":1000},{"c":2,"r":28,"v":920},{"c":3,"r":28,"v":805},{"c":4,"r":28,"v":785},{"c":5,"r":28,"v":765},{"c":6,"r":28,"v":765},{"c":7,"r":28,"v":765},{"c":8,"r":28,"v":765},{"c":9,"r":28,"v":765},{"c":10,"r":28,"v":765},{"c":11,"r":28,"v":765},{"c":12,"r":28,"v":765},{"c":13,"r":28,"v":765},{"c":14,"r":28,"v":760},{"c":15,"r":28,"v":755},{"c":16,"r":28,"v":750},{"c":17,"r":28,"v":745},{"c":18,"r":28,"v":740},{"c":19,"r":28,"v":734},{"c":20,"r":28,"v":729},{"c":21,"r":28,"v":725},{"c":22,"r":28,"v":722},{"c":23,"r":28,"v":720},{"c":24,"r":28,"v":718},{"c":25,"r":28,"v":716},{"c":26,"r":28,"v":714},{"c":27,"r":28,"v":714},{"c":28,"r":28,"v":714},{"c":29,"r":28,"v":712},{"c":30,"r":28,"v":680},{"c":31,"r":28,"v":635},{"c":32,"r":28,"v":610},{"c":33,"r":28,"v":610},{"c":34,"r":28,"v":610},{"c":35,"r":28,"v":610},{"c":36,"r":28,"v":650},{"c":37,"r":28,"v":735},{"c":38,"r":28,"v":805},{"c":39,"r":28,"v":975},{"c":40,"r":28,"v":950},
{"c":0,"r":29,"v":880},{"c":1,"r":29,"v":1000},{"c":2,"r":29,"v":920},{"c":3,"r":29,"v":805},{"c":4,"r":29,"v":785},{"c":5,"r":29,"v":765},{"c":6,"r":29,"v":765},{"c":7,"r":29,"v":765},{"c":8,"r":29,"v":765},{"c":9,"r":29,"v":765},{"c":10,"r":29,"v":765},{"c":11,"r":29,"v":765},{"c":12,"r":29,"v":765},{"c":13,"r":29,"v":765},{"c":14,"r":29,"v":760},{"c":15,"r":29,"v":755},{"c":16,"r":29,"v":750},{"c":17,"r":29,"v":745},{"c":18,"r":29,"v":740},{"c":19,"r":29,"v":734},{"c":20,"r":29,"v":729},{"c":21,"r":29,"v":725},{"c":22,"r":29,"v":722},{"c":23,"r":29,"v":720},{"c":24,"r":29,"v":718},{"c":25,"r":29,"v":716},{"c":26,"r":29,"v":715},{"c":27,"r":29,"v":715},{"c":28,"r":29,"v":715},{"c":29,"r":29,"v":714},{"c":30,"r":29,"v":690},{"c":31,"r":29,"v":650},{"c":32,"r":29,"v":615},{"c":33,"r":29,"v":615},{"c":34,"r":29,"v":615},{"c":35,"r":29,"v":615},{"c":36,"r":29,"v":660},{"c":37,"r":29,"v":740},{"c":38,"r":29,"v":805},{"c":39,"r":29,"v":950},{"c":40,"r":29,"v":880},
{"c":0,"r":30,"v":1000},{"c":1,"r":30,"v":950},{"c":2,"r":30,"v":880},{"c":3,"r":30,"v":805},{"c":4,"r":30,"v":785},{"c":5,"r":30,"v":765},{"c":6,"r":30,"v":765},{"c":7,"r":30,"v":765},{"c":8,"r":30,"v":765},{"c":9,"r":30,"v":765},{"c":10,"r":30,"v":765},{"c":11,"r":30,"v":765},{"c":12,"r":30,"v":765},{"c":13,"r":30,"v":765},{"c":14,"r":30,"v":760},{"c":15,"r":30,"v":755},{"c":16,"r":30,"v":750},{"c":17,"r":30,"v":745},{"c":18,"r":30,"v":740},{"c":19,"r":30,"v":735},{"c":20,"r":30,"v":730},{"c":21,"r":30,"v":727},{"c":22,"r":30,"v":725},{"c":23,"r":30,"v":722},{"c":24,"r":30,"v":720},{"c":25,"r":30,"v":718},{"c":26,"r":30,"v":717},{"c":27,"r":30,"v":717},{"c":28,"r":30,"v":717},{"c":29,"r":30,"v":716},{"c":30,"r":30,"v":700},{"c":31,"r":30,"v":660},{"c":32,"r":30,"v":620},{"c":33,"r":30,"v":610},{"c":34,"r":30,"v":610},{"c":35,"r":30,"v":620},{"c":36,"r":30,"v":665},{"c":37,"r":30,"v":745},{"c":38,"r":30,"v":805},{"c":39,"r":30,"v":880},{"c":40,"r":30,"v":1000},
{"c":0,"r":31,"v":1000},{"c":1,"r":31,"v":950},{"c":2,"r":31,"v":880},{"c":3,"r":31,"v":805},{"c":4,"r":31,"v":785},{"c":5,"r":31,"v":765},{"c":6,"r":31,"v":765},{"c":7,"r":31,"v":765},{"c":8,"r":31,"v":765},{"c":9,"r":31,"v":765},{"c":10,"r":31,"v":765},{"c":11,"r":31,"v":765},{"c":12,"r":31,"v":765},{"c":13,"r":31,"v":765},{"c":14,"r":31,"v":760},{"c":15,"r":31,"v":755},{"c":16,"r":31,"v":750},{"c":17,"r":31,"v":745},{"c":18,"r":31,"v":740},{"c":19,"r":31,"v":735},{"c":20,"r":31,"v":731},{"c":21,"r":31,"v":728},{"c":22,"r":31,"v":726},{"c":23,"r":31,"v":724},{"c":24,"r":31,"v":722},{"c":25,"r":31,"v":720},{"c":26,"r":31,"v":719},{"c":27,"r":31,"v":719},{"c":28,"r":31,"v":719},{"c":29,"r":31,"v":718},{"c":30,"r":31,"v":705},{"c":31,"r":31,"v":665},{"c":32,"r":31,"v":615},{"c":33,"r":31,"v":600},{"c":34,"r":31,"v":600},{"c":35,"r":31,"v":610},{"c":36,"r":31,"v":665},{"c":37,"r":31,"v":745},{"c":38,"r":31,"v":805},{"c":39,"r":31,"v":880},{"c":40,"r":31,"v":1000},
{"c":0,"r":32,"v":1000},{"c":1,"r":32,"v":950},{"c":2,"r":32,"v":880},{"c":3,"r":32,"v":805},{"c":4,"r":32,"v":785},{"c":5,"r":32,"v":765},{"c":6,"r":32,"v":765},{"c":7,"r":32,"v":765},{"c":8,"r":32,"v":765},{"c":9,"r":32,"v":765},{"c":10,"r":32,"v":765},{"c":11,"r":32,"v":765},{"c":12,"r":32,"v":765},{"c":13,"r":32,"v":765},{"c":14,"r":32,"v":761},{"c":15,"r":32,"v":756},{"c":16,"r":32,"v":752},{"c":17,"r":32,"v":747},{"c":18,"r":32,"v":742},{"c":19,"r":32,"v":737},{"c":20,"r":32,"v":733},{"c":21,"r":32,"v":730},{"c":22,"r":32,"v":728},{"c":23,"r":32,"v":726},{"c":24,"r":32,"v":724},{"c":25,"r":32,"v":722},{"c":26,"r":32,"v":721},{"c":27,"r":32,"v":721},{"c":28,"r":32,"v":720},{"c":29,"r":32,"v":719},{"c":30,"r":32,"v":710},{"c":31,"r":32,"v":665},{"c":32,"r":32,"v":610},{"c":33,"r":32,"v":595},{"c":34,"r":32,"v":590},{"c":35,"r":32,"v":600},{"c":36,"r":32,"v":660},{"c":37,"r":32,"v":745},{"c":38,"r":32,"v":805},{"c":39,"r":32,"v":880},{"c":40,"r":32,"v":1000},
{"c":0,"r":33,"v":1000},{"c":1,"r":33,"v":950},{"c":2,"r":33,"v":880},{"c":3,"r":33,"v":805},{"c":4,"r":33,"v":785},{"c":5,"r":33,"v":765},{"c":6,"r":33,"v":765},{"c":7,"r":33,"v":765},{"c":8,"r":33,"v":765},{"c":9,"r":33,"v":765},{"c":10,"r":33,"v":765},{"c":11,"r":33,"v":765},{"c":12,"r":33,"v":765},{"c":13,"r":33,"v":765},{"c":14,"r":33,"v":762},{"c":15,"r":33,"v":758},{"c":16,"r":33,"v":754},{"c":17,"r":33,"v":750},{"c":18,"r":33,"v":745},{"c":19,"r":33,"v":740},{"c":20,"r":33,"v":736},{"c":21,"r":33,"v":733},{"c":22,"r":33,"v":731},{"c":23,"r":33,"v":729},{"c":24,"r":33,"v":727},{"c":25,"r":33,"v":725},{"c":26,"r":33,"v":724},{"c":27,"r":33,"v":724},{"c":28,"r":33,"v":723},{"c":29,"r":33,"v":722},{"c":30,"r":33,"v":715},{"c":31,"r":33,"v":670},{"c":32,"r":33,"v":610},{"c":33,"r":33,"v":590},{"c":34,"r":33,"v":585},{"c":35,"r":33,"v":595},{"c":36,"r":33,"v":660},{"c":37,"r":33,"v":750},{"c":38,"r":33,"v":805},{"c":39,"r":33,"v":880},{"c":40,"r":33,"v":1000},
{"c":0,"r":34,"v":1000},{"c":1,"r":34,"v":950},{"c":2,"r":34,"v":880},{"c":3,"r":34,"v":805},{"c":4,"r":34,"v":785},{"c":5,"r":34,"v":765},{"c":6,"r":34,"v":765},{"c":7,"r":34,"v":765},{"c":8,"r":34,"v":765},{"c":9,"r":34,"v":765},{"c":10,"r":34,"v":765},{"c":11,"r":34,"v":765},{"c":12,"r":34,"v":765},{"c":13,"r":34,"v":765},{"c":14,"r":34,"v":764},{"c":15,"r":34,"v":761},{"c":16,"r":34,"v":758},{"c":17,"r":34,"v":755},{"c":18,"r":34,"v":750},{"c":19,"r":34,"v":745},{"c":20,"r":34,"v":742},{"c":21,"r":34,"v":740},{"c":22,"r":34,"v":740},{"c":23,"r":34,"v":738},{"c":24,"r":34,"v":736},{"c":25,"r":34,"v":734},{"c":26,"r":34,"v":733},{"c":27,"r":34,"v":733},{"c":28,"r":34,"v":732},{"c":29,"r":34,"v":730},{"c":30,"r":34,"v":720},{"c":31,"r":34,"v":685},{"c":32,"r":34,"v":630},{"c":33,"r":34,"v":605},{"c":34,"r":34,"v":600},{"c":35,"r":34,"v":615},{"c":36,"r":34,"v":680},{"c":37,"r":34,"v":755},{"c":38,"r":34,"v":805},{"c":39,"r":34,"v":880},{"c":40,"r":34,"v":1000},
{"c":0,"r":35,"v":1000},{"c":1,"r":35,"v":950},{"c":2,"r":35,"v":880},{"c":3,"r":35,"v":805},{"c":4,"r":35,"v":785},{"c":5,"r":35,"v":765},{"c":6,"r":35,"v":765},{"c":7,"r":35,"v":765},{"c":8,"r":35,"v":765},{"c":9,"r":35,"v":765},{"c":10,"r":35,"v":765},{"c":11,"r":35,"v":765},{"c":12,"r":35,"v":765},{"c":13,"r":35,"v":765},{"c":14,"r":35,"v":765},{"c":15,"r":35,"v":765},{"c":16,"r":35,"v":765},{"c":17,"r":35,"v":762},{"c":18,"r":35,"v":755},{"c":19,"r":35,"v":748},{"c":20,"r":35,"v":744},{"c":21,"r":35,"v":746},{"c":22,"r":35,"v":750},{"c":23,"r":35,"v":752},{"c":24,"r":35,"v":750},{"c":25,"r":35,"v":748},{"c":26,"r":35,"v":746},{"c":27,"r":35,"v":745},{"c":28,"r":35,"v":744},{"c":29,"r":35,"v":740},{"c":30,"r":35,"v":730},{"c":31,"r":35,"v":705},{"c":32,"r":35,"v":675},{"c":33,"r":35,"v":655},{"c":34,"r":35,"v":650},{"c":35,"r":35,"v":665},{"c":36,"r":35,"v":710},{"c":37,"r":35,"v":760},{"c":38,"r":35,"v":805},{"c":39,"r":35,"v":950},{"c":40,"r":35,"v":1000},
{"c":0,"r":36,"v":880},{"c":1,"r":36,"v":1000},{"c":2,"r":36,"v":950},{"c":3,"r":36,"v":880},{"c":4,"r":36,"v":805},{"c":5,"r":36,"v":775},{"c":6,"r":36,"v":775},{"c":7,"r":36,"v":775},{"c":8,"r":36,"v":775},{"c":9,"r":36,"v":775},{"c":10,"r":36,"v":775},{"c":11,"r":36,"v":775},{"c":12,"r":36,"v":775},{"c":13,"r":36,"v":775},{"c":14,"r":36,"v":775},{"c":15,"r":36,"v":775},{"c":16,"r":36,"v":775},{"c":17,"r":36,"v":770},{"c":18,"r":36,"v":750},{"c":19,"r":36,"v":745},{"c":20,"r":36,"v":742},{"c":21,"r":36,"v":745},{"c":22,"r":36,"v":750},{"c":23,"r":36,"v":765},{"c":24,"r":36,"v":765},{"c":25,"r":36,"v":765},{"c":26,"r":36,"v":765},{"c":27,"r":36,"v":765},{"c":28,"r":36,"v":765},{"c":29,"r":36,"v":762},{"c":30,"r":36,"v":755},{"c":31,"r":36,"v":745},{"c":32,"r":36,"v":738},{"c":33,"r":36,"v":735},{"c":34,"r":36,"v":738},{"c":35,"r":36,"v":750},{"c":36,"r":36,"v":765},{"c":37,"r":36,"v":805},{"c":38,"r":36,"v":880},{"c":39,"r":36,"v":975},{"c":40,"r":36,"v":880},
{"c":0,"r":37,"v":880},{"c":1,"r":37,"v":1000},{"c":2,"r":37,"v":950},{"c":3,"r":37,"v":880},{"c":4,"r":37,"v":840},{"c":5,"r":37,"v":805},{"c":6,"r":37,"v":805},{"c":7,"r":37,"v":805},{"c":8,"r":37,"v":805},{"c":9,"r":37,"v":805},{"c":10,"r":37,"v":805},{"c":11,"r":37,"v":805},{"c":12,"r":37,"v":805},{"c":13,"r":37,"v":805},{"c":14,"r":37,"v":805},{"c":15,"r":37,"v":805},{"c":16,"r":37,"v":805},{"c":17,"r":37,"v":770},{"c":18,"r":37,"v":752},{"c":19,"r":37,"v":745},{"c":20,"r":37,"v":742},{"c":21,"r":37,"v":745},{"c":22,"r":37,"v":752},{"c":23,"r":37,"v":765},{"c":24,"r":37,"v":805},{"c":25,"r":37,"v":805},{"c":26,"r":37,"v":805},{"c":27,"r":37,"v":805},{"c":28,"r":37,"v":805},{"c":29,"r":37,"v":805},{"c":30,"r":37,"v":805},{"c":31,"r":37,"v":805},{"c":32,"r":37,"v":805},{"c":33,"r":37,"v":805},{"c":34,"r":37,"v":805},{"c":35,"r":37,"v":805},{"c":36,"r":37,"v":805},{"c":37,"r":37,"v":880},{"c":38,"r":37,"v":950},{"c":39,"r":37,"v":1000},{"c":40,"r":37,"v":880},
{"c":0,"r":38,"v":880},{"c":1,"r":38,"v":1000},{"c":2,"r":38,"v":975},{"c":3,"r":38,"v":950},{"c":4,"r":38,"v":880},{"c":5,"r":38,"v":880},{"c":6,"r":38,"v":880},{"c":7,"r":38,"v":880},{"c":8,"r":38,"v":880},{"c":9,"r":38,"v":880},{"c":10,"r":38,"v":880},{"c":11,"r":38,"v":880},{"c":12,"r":38,"v":880},{"c":13,"r":38,"v":880},{"c":14,"r":38,"v":880},{"c":15,"r":38,"v":880},{"c":16,"r":38,"v":805},{"c":17,"r":38,"v":770},{"c":18,"r":38,"v":760},{"c":19,"r":38,"v":748},{"c":20,"r":38,"v":745},{"c":21,"r":38,"v":748},{"c":22,"r":38,"v":758},{"c":23,"r":38,"v":770},{"c":24,"r":38,"v":805},{"c":25,"r":38,"v":880},{"c":26,"r":38,"v":880},{"c":27,"r":38,"v":880},{"c":28,"r":38,"v":880},{"c":29,"r":38,"v":880},{"c":30,"r":38,"v":880},{"c":31,"r":38,"v":880},{"c":32,"r":38,"v":880},{"c":33,"r":38,"v":880},{"c":34,"r":38,"v":880},{"c":35,"r":38,"v":880},{"c":36,"r":38,"v":880},{"c":37,"r":38,"v":950},{"c":38,"r":38,"v":1000},{"c":39,"r":38,"v":1000},{"c":40,"r":38,"v":880},
{"c":0,"r":39,"v":880},{"c":1,"r":39,"v":1000},{"c":2,"r":39,"v":1000},{"c":3,"r":39,"v":1000},{"c":4,"r":39,"v":1000},{"c":5,"r":39,"v":950},{"c":6,"r":39,"v":950},{"c":7,"r":39,"v":950},{"c":8,"r":39,"v":950},{"c":9,"r":39,"v":950},{"c":10,"r":39,"v":950},{"c":11,"r":39,"v":1000},{"c":12,"r":39,"v":1000},{"c":13,"r":39,"v":1000},{"c":14,"r":39,"v":1000},{"c":15,"r":39,"v":950},{"c":16,"r":39,"v":880},{"c":17,"r":39,"v":805},{"c":18,"r":39,"v":770},{"c":19,"r":39,"v":750},{"c":20,"r":39,"v":745},{"c":21,"r":39,"v":750},{"c":22,"r":39,"v":768},{"c":23,"r":39,"v":805},{"c":24,"r":39,"v":880},{"c":25,"r":39,"v":975},{"c":26,"r":39,"v":975},{"c":27,"r":39,"v":975},{"c":28,"r":39,"v":975},{"c":29,"r":39,"v":950},{"c":30,"r":39,"v":920},{"c":31,"r":39,"v":920},{"c":32,"r":39,"v":920},{"c":33,"r":39,"v":920},{"c":34,"r":39,"v":920},{"c":35,"r":39,"v":920},{"c":36,"r":39,"v":950},{"c":37,"r":39,"v":1000},{"c":38,"r":39,"v":1000},{"c":39,"r":39,"v":1000},{"c":40,"r":39,"v":880},
{"c":0,"r":40,"v":1000},{"c":1,"r":40,"v":880},{"c":2,"r":40,"v":880},{"c":3,"r":40,"v":880},{"c":4,"r":40,"v":880},{"c":5,"r":40,"v":1000},{"c":6,"r":40,"v":1000},{"c":7,"r":40,"v":1000},{"c":8,"r":40,"v":1000},{"c":9,"r":40,"v":1000},{"c":10,"r":40,"v":1000},{"c":11,"r":40,"v":880},{"c":12,"r":40,"v":880},{"c":13,"r":40,"v":880},{"c":14,"r":40,"v":880},{"c":15,"r":40,"v":1000},{"c":16,"r":40,"v":975},{"c":17,"r":40,"v":880},{"c":18,"r":40,"v":805},{"c":19,"r":40,"v":765},{"c":20,"r":40,"v":748},{"c":21,"r":40,"v":752},{"c":22,"r":40,"v":768},{"c":23,"r":40,"v":880},{"c":24,"r":40,"v":975},{"c":25,"r":40,"v":1000},{"c":26,"r":40,"v":880},{"c":27,"r":40,"v":880},{"c":28,"r":40,"v":880},{"c":29,"r":40,"v":880},{"c":30,"r":40,"v":1000},{"c":31,"r":40,"v":1000},{"c":32,"r":40,"v":1000},{"c":33,"r":40,"v":1000},{"c":34,"r":40,"v":1000},{"c":35,"r":40,"v":1000},{"c":36,"r":40,"v":880},{"c":37,"r":40,"v":880},{"c":38,"r":40,"v":880},{"c":39,"r":40,"v":880},{"c":40,"r":40,"v":1000}
      ]},
      "mark": {"type": "rect", "strokeWidth": 0.6},
      "encoding": {
        "x": {"field": "c", "type": "ordinal", "axis": null, "scale": {"paddingInner": 0, "paddingOuter": 0}},
        "y": {"field": "r", "type": "ordinal", "axis": null, "scale": {"paddingInner": 0, "paddingOuter": 0}},
        "color": {"field": "v", "type": "quantitative", "legend": null,
          "scale": {"domain": [430, 460, 520, 570, 610, 660, 690, 715, 740, 765, 805, 840, 880, 920, 950, 975, 1000],
                    "range": ["#354a9b", "#3a56ab", "#3c72cd", "#3d8fe0", "#3d9fe9", "#3fa3c9", "#40a1a6", "#42a088", "#48a26e", "#50a660", "#8ec75e", "#c6da58", "#f5e650", "#f4c04b", "#ef9a49", "#e6724a", "#d84a48"]}},
        "stroke": {"field": "v", "type": "quantitative", "legend": null,
          "scale": {"domain": [430, 460, 520, 570, 610, 660, 690, 715, 740, 765, 805, 840, 880, 920, 950, 975, 1000],
                    "range": ["#354a9b", "#3a56ab", "#3c72cd", "#3d8fe0", "#3d9fe9", "#3fa3c9", "#40a1a6", "#42a088", "#48a26e", "#50a660", "#8ec75e", "#c6da58", "#f5e650", "#f4c04b", "#ef9a49", "#e6724a", "#d84a48"]}}
      }
    },
    {
      "layer": [
        {
          "data": {"values": [{}]},
          "mark": {"type": "rect", "fillOpacity": 0, "stroke": "#262626", "strokeWidth": 1.8, "clip": false},
          "encoding": {
            "x": {"datum": -20, "type": "quantitative", "scale": {"domain": [-20, 20], "nice": false, "zero": false}, "axis": {"orient": "bottom", "title": null, "values": [-20, -15, -10, -5, 0, 5, 10, 15, 20], "labelPadding": 14}},
            "x2": {"datum": 20},
            "y": {"datum": -20, "type": "quantitative", "scale": {"domain": [-20, 20], "nice": false, "zero": false}, "axis": {"orient": "left", "title": null, "values": [-20, -15, -10, -5, 0, 5, 10, 15, 20], "labelPadding": 18}},
            "y2": {"datum": 20}
          }
        },
        {
          "data": {"values": [
            {"i": 0, "x": 9.0, "y": 23.35}, {"i": 1, "x": 10.52, "y": 22.57}, {"i": 2, "x": 12.45, "y": 21.56}, {"i": 3, "x": 14.28, "y": 20.4},
            {"i": 4, "x": 16.01, "y": 19.07}, {"i": 5, "x": 17.61, "y": 17.61}, {"i": 6, "x": 19.07, "y": 16.01}, {"i": 7, "x": 20.4, "y": 14.28},
            {"i": 8, "x": 21.56, "y": 12.45}, {"i": 9, "x": 22.57, "y": 10.52}, {"i": 10, "x": 23.4, "y": 8.52}, {"i": 11, "x": 24.05, "y": 6.44},
            {"i": 12, "x": 24.5, "y": 4.4}, {"i": 13, "x": 24.5, "y": -4.4},
            {"i": 14, "x": 24.05, "y": -6.44}, {"i": 15, "x": 23.4, "y": -8.52}, {"i": 16, "x": 22.57, "y": -10.52},
            {"i": 17, "x": 21.56, "y": -12.45}, {"i": 18, "x": 20.4, "y": -14.28}, {"i": 19, "x": 19.07, "y": -16.01}, {"i": 20, "x": 17.61, "y": -17.61},
            {"i": 21, "x": 16.01, "y": -19.07}, {"i": 22, "x": 14.28, "y": -20.4}, {"i": 23, "x": 12.45, "y": -21.56}, {"i": 24, "x": 10.52, "y": -22.57},
            {"i": 25, "x": 8.52, "y": -23.4}, {"i": 26, "x": 7.64, "y": -23.7}, {"i": 27, "x": -7.64, "y": -23.7}, {"i": 28, "x": -8.52, "y": -23.4},
            {"i": 29, "x": -10.52, "y": -22.57}, {"i": 30, "x": -12.45, "y": -21.56}, {"i": 31, "x": -14.28, "y": -20.4}, {"i": 32, "x": -16.01, "y": -19.07},
            {"i": 33, "x": -17.61, "y": -17.61}, {"i": 34, "x": -19.07, "y": -16.01}, {"i": 35, "x": -20.4, "y": -14.28}, {"i": 36, "x": -21.56, "y": -12.45},
            {"i": 37, "x": -22.57, "y": -10.52}, {"i": 38, "x": -23.4, "y": -8.52}, {"i": 39, "x": -24.05, "y": -6.44},
            {"i": 40, "x": -24.5, "y": -4.4}, {"i": 41, "x": -24.5, "y": 4.4},
            {"i": 42, "x": -24.05, "y": 6.44}, {"i": 43, "x": -23.4, "y": 8.52}, {"i": 44, "x": -22.57, "y": 10.52}, {"i": 45, "x": -21.56, "y": 12.45},
            {"i": 46, "x": -20.4, "y": 14.28}, {"i": 47, "x": -19.07, "y": 16.01}, {"i": 48, "x": -17.61, "y": 17.61}, {"i": 49, "x": -16.01, "y": 19.07},
            {"i": 50, "x": -14.28, "y": 20.4}, {"i": 51, "x": -12.45, "y": 21.56}, {"i": 52, "x": -10.52, "y": 22.57}, {"i": 53, "x": -9.0, "y": 23.35},
            {"i": 54, "x": 9.0, "y": 23.35}
          ]},
          "mark": {"type": "line", "clip": false, "color": "#1e1e1e", "strokeWidth": 3.2, "strokeCap": "round", "strokeDash": [0.1, 7.8]},
          "encoding": {
            "x": {"field": "x", "type": "quantitative", "axis": {"orient": "bottom", "title": null, "values": [-20, -15, -10, -5, 0, 5, 10, 15, 20], "labelPadding": 14}},
            "y": {"field": "y", "type": "quantitative", "axis": {"orient": "left", "title": null, "values": [-20, -15, -10, -5, 0, 5, 10, 15, 20], "labelPadding": 18}},
            "order": {"field": "i", "type": "quantitative"}
          }
        },
        {
          "data": {"values": [{}]},
          "mark": {"type": "point", "filled": true, "clip": false, "size": 12996, "fill": "#549c5c", "stroke": "#262626", "strokeWidth": 2.5, "opacity": 1},
          "encoding": {"x": {"datum": 26.91, "type": "quantitative"}, "y": {"datum": 20.22, "type": "quantitative"}}
        },
        {
          "data": {"values": [{}]},
          "mark": {"type": "text", "clip": false, "text": "N*", "font": "Liberation Sans", "fontSize": 40, "color": "#eef6ec", "align": "center", "baseline": "middle", "dx": 8, "dy": -5},
          "encoding": {"x": {"datum": 26.91, "type": "quantitative"}, "y": {"datum": 20.22, "type": "quantitative"}}
        },
        {
          "data": {"values": [{}]},
          "mark": {"type": "point", "filled": true, "clip": false, "size": 11450, "fill": "#5a88d2", "stroke": "#262626", "strokeWidth": 2.5, "opacity": 1},
          "encoding": {"x": {"datum": -23.85, "type": "quantitative"}, "y": {"datum": -27.14, "type": "quantitative"}}
        },
        {
          "data": {"values": [{}]},
          "mark": {"type": "text", "clip": false, "text": "Ga", "font": "Liberation Sans", "fontSize": 38, "color": "#f2f6fc", "align": "center", "baseline": "middle"},
          "encoding": {"x": {"datum": -23.85, "type": "quantitative"}, "y": {"datum": -27.14, "type": "quantitative"}}
        },
        {
          "data": {"values": [{"t": "400"}, {"t": "600"}, {"t": "800"}, {"t": "1000"}]},
          "mark": {"type": "point", "opacity": 0},
          "encoding": {
            "color": {"field": "t", "type": "nominal",
              "scale": {"domain": ["400", "600", "800", "1000"], "range": ["#3f5aa8", "#8de2ee", "#a6c95b", "#d44545"]},
              "legend": {"orient": "none", "legendX": 780, "legendY": 579, "direction": "vertical", "title": null, "padding": 0,
                "symbolSize": 0, "symbolStrokeWidth": 0, "symbolOpacity": 0, "labelOffset": 0, "rowPadding": 1,
                "labelFont": "Liberation Sans", "labelFontSize": 39, "labelLimit": 0,
                "labelColor": {"expr": "datum.value == '400' ? '#3f5aa8' : datum.value == '600' ? '#8de2ee' : datum.value == '800' ? '#a6c95b' : '#d44545'"}}}
          }
        }
      ]
    }
  ]
}
